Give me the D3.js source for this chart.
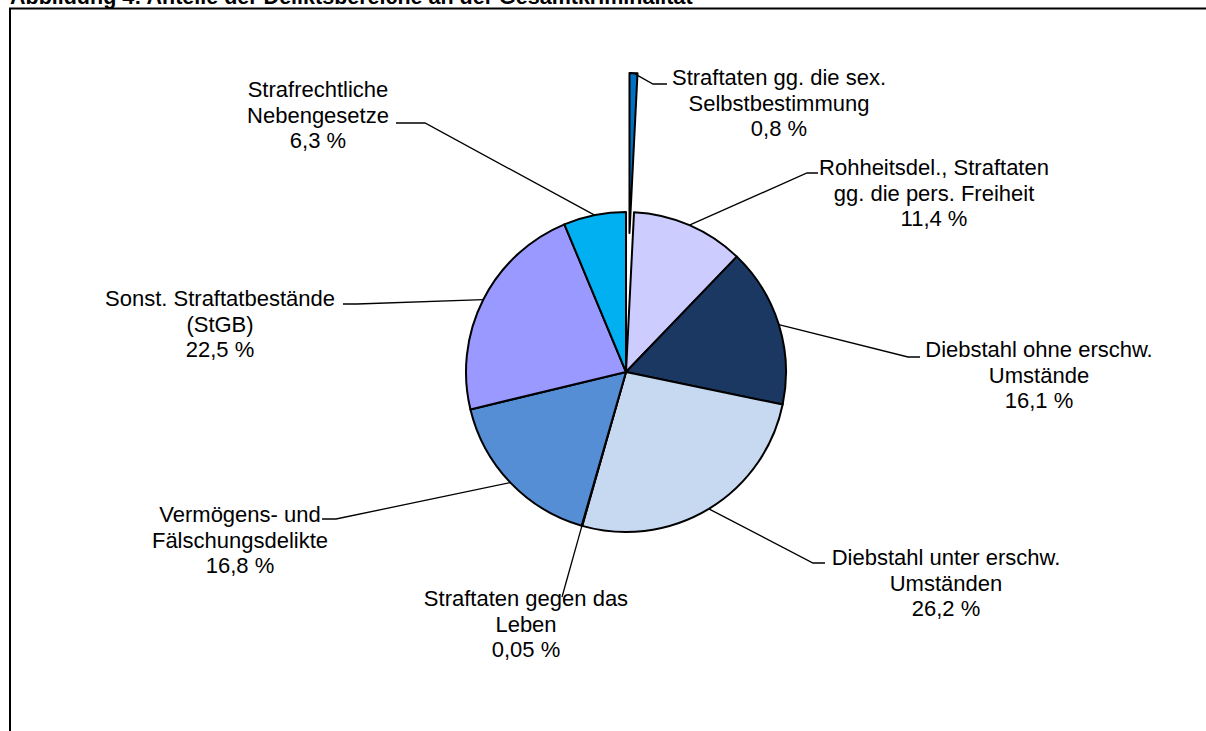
<!DOCTYPE html>
<html>
<head>
<meta charset="utf-8">
<script src="https://cdn.jsdelivr.net/npm/d3@7"></script>
<style>
  html, body { margin: 0; padding: 0; background: #fff; }
  svg { display: block; }
  text { font-family: "Liberation Sans", Arial, sans-serif; fill: #000; }
</style>
</head>
<body>
<svg id="chart" width="1206" height="731"></svg>
<script>
// ---- data ----
const title = "Abbildung 4: Anteile der Deliktsbereiche an der Gesamtkriminalität";
const categories = [
  "Straftaten gg. die sex. Selbstbestimmung",
  "Rohheitsdel., Straftaten gg. die pers. Freiheit",
  "Diebstahl ohne erschw. Umstände",
  "Diebstahl unter erschw. Umständen",
  "Straftaten gegen das Leben",
  "Vermögens- und Fälschungsdelikte",
  "Sonst. Straftatbestände (StGB)",
  "Strafrechtliche Nebengesetze"
];
const categoryLines = [
  ["Straftaten gg. die sex.", "Selbstbestimmung"],
  ["Rohheitsdel., Straftaten", "gg. die pers. Freiheit"],
  ["Diebstahl ohne erschw.", "Umstände"],
  ["Diebstahl unter erschw.", "Umständen"],
  ["Straftaten gegen das", "Leben"],
  ["Vermögens- und", "Fälschungsdelikte"],
  ["Sonst. Straftatbestände", "(StGB)"],
  ["Strafrechtliche", "Nebengesetze"]
];
const values = [0.8, 11.4, 16.1, 26.2, 0.05, 16.8, 22.5, 6.3];
const valueLabels = ["0,8 %", "11,4 %", "16,1 %", "26,2 %", "0,05 %", "16,8 %", "22,5 %", "6,3 %"];

// ---- styles / layout ----
const colors = ["#0070C0", "#CCCCFF", "#1B3862", "#C6D9F1", "#4F81BD", "#558ED5", "#9999FF", "#00B0F0"];
const explode = [139, 0, 0, 0, 0, 0, 0, 0];
const cx = 626, cy = 372, radius = 160;
const fontSize = 22, lineH = 25.5;
// label anchor (text centre x, first baseline y) and leader-line path after the slice edge
const labelLayout = [
  { x: 779, y: 85,  path: [[653, 84], [667, 84]] },
  { x: 934, y: 175, path: [[807, 173], [818, 173]] },
  { x: 1039, y: 357, path: [[908, 357], [920, 357]] },
  { x: 946, y: 565, path: [[813, 563], [825, 563]] },
  { x: 526, y: 606, path: [[562, 597]] },
  { x: 240, y: 522, path: [[336, 519], [322, 519]] },
  { x: 220, y: 306, path: [[357, 304], [343, 304]] },
  { x: 318, y: 97,  path: [[425, 123], [396, 123]] }
];

const svg = d3.select("#chart");

// frame (cut off at right and bottom)
svg.append("rect")
  .attr("x", 10).attr("y", 8.5)
  .attr("width", 1300).attr("height", 800)
  .attr("fill", "none").attr("stroke", "#000").attr("stroke-width", 2);

// title (partially cut off at top, as in the original)
svg.append("text")
  .attr("x", 10).attr("y", 3.5)
  .attr("font-size", 21.5).attr("font-weight", "bold")
  .text(title);

const pie = d3.pie().sort(null).value(d => d).startAngle(0).endAngle(2 * Math.PI);
const arcs = pie(values);
const arcGen = d3.arc().innerRadius(0).outerRadius(radius);

const g = svg.append("g").attr("transform", `translate(${cx},${cy})`);

function offsetOf(d, i) {
  const mid = (d.startAngle + d.endAngle) / 2;
  return [explode[i] * Math.sin(mid), -explode[i] * Math.cos(mid)];
}

// leader lines first (under slices)
const lineGen = d3.line();
arcs.forEach((d, i) => {
  const mid = (d.startAngle + d.endAngle) / 2;
  const [ox, oy] = offsetOf(d, i);
  const sx = cx + ox + radius * Math.sin(mid);
  const sy = cy + oy - radius * Math.cos(mid);
  const pts = [[sx, sy]].concat(labelLayout[i].path);
  svg.append("path")
    .attr("d", lineGen(pts))
    .attr("fill", "none")
    .attr("stroke", "#000")
    .attr("stroke-width", 1.3);
});

g.selectAll("path.slice")
  .data(arcs)
  .join("path")
  .attr("class", "slice")
  .attr("transform", (d, i) => { const o = offsetOf(d, i); return `translate(${o[0]},${o[1]})`; })
  .attr("d", arcGen)
  .attr("fill", (d, i) => colors[i])
  .attr("stroke", "#000")
  .attr("stroke-width", 2)
  .attr("stroke-linejoin", "round");

// labels
arcs.forEach((d, i) => {
  const L = labelLayout[i];
  const lines = categoryLines[i].concat([valueLabels[i]]);
  const t = svg.append("text")
    .attr("text-anchor", "middle")
    .attr("font-size", fontSize);
  lines.forEach((s, k) => {
    t.append("tspan").attr("x", L.x).attr("y", L.y + k * lineH).text(s);
  });
});
</script>
</body>
</html>
